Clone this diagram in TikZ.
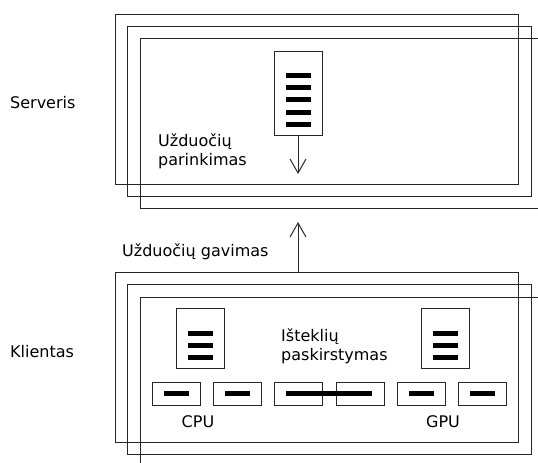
\documentclass[tikz,border=0pt]{standalone}
\usepackage{fontspec}
\setmainfont{DejaVu Sans}
\usetikzlibrary{arrows.meta}
\tikzset{
  frame/.style={draw=black!85, line width=1pt, minimum width=#1, minimum height=170pt, inner sep=0pt, anchor=north west},
  qbox/.style={draw=black!85, line width=1pt, fill=white, minimum width=48pt, inner sep=0pt},
  bar/.style={fill=black, minimum width=25pt, minimum height=5pt, inner sep=0pt},
  lbl/.style={inner sep=0pt, anchor=west, align=left, font=\fontsize{16}{19}\selectfont},
  conn/.style={draw=black!85, line width=1pt, -{Straight Barb[length=14pt,width=16pt,line width=1pt]}}
}
\begin{document}
\begin{tikzpicture}[x=1pt,y=-1pt]
\useasboundingbox (0,0) rectangle (538,463);
\clip (0,0) rectangle (538,463);
% server frames
\node[frame=403pt] (s1) at (115,14) {};
\node[frame=404pt] (s2) at (127,26) {};
\node[frame=405pt] (s3) at (140,38) {};
% client frames
\node[frame=403pt] (c1) at (115,272) {};
\node[frame=404pt] (c2) at (127,284) {};
\node[frame=405pt] (c3) at (140,297) {};
% side labels
\node[lbl] (serveris) at (10,103) {Serveris};
\node[lbl] (klientas) at (10,352) {Klientas};
% server queue
\node[qbox, minimum height=84pt] (sq) at (298,93) {};
\foreach \y [count=\i] in {75,87,99,112,124} \node[bar] (sqb\i) at (298.5,\y) {};
\coordinate (sqend) at (298,174);
\draw[conn] (sq.south) -- (sqend);
\node[lbl] (parink) at (158,151) {Užduočių\\parinkimas};
% task fetching
\coordinate (gend) at (298,222);
\draw[conn] (c1.north -| sq.south) -- (gend);
\node[lbl] (gavimas) at (122,252) {Užduočių gavimas};
% client queues
\node[qbox, minimum height=60pt] (cq1) at (200,338) {};
\node[qbox, minimum height=60pt] (cq2) at (445,338) {};
\foreach \y [count=\i] in {333,345,357} {
  \node[bar] (cqa\i) at (200.5,\y) {};
  \node[bar] (cqb\i) at (445.5,\y) {};
}
\node[lbl] (isteklius) at (281,346) {Išteklių\\paskirstymas};
% devices
\foreach \x [count=\i] in {176,237.5,298.5,360,421,482.5} {
  \node[qbox, minimum height=23pt] (d\i) at (\x,393.5) {};
}
\foreach \i in {1,2,5,6} \node[bar] at (d\i) {};
\node[bar, minimum width=86pt] (dbig) at (329,393.5) {};
\node[inner sep=0pt, font=\fontsize{16}{19}\selectfont] (cpu) at (198,422) {CPU};
\node[inner sep=0pt, font=\fontsize{16}{19}\selectfont] (gpu) at (443,422) {GPU};
\end{tikzpicture}
\end{document}
